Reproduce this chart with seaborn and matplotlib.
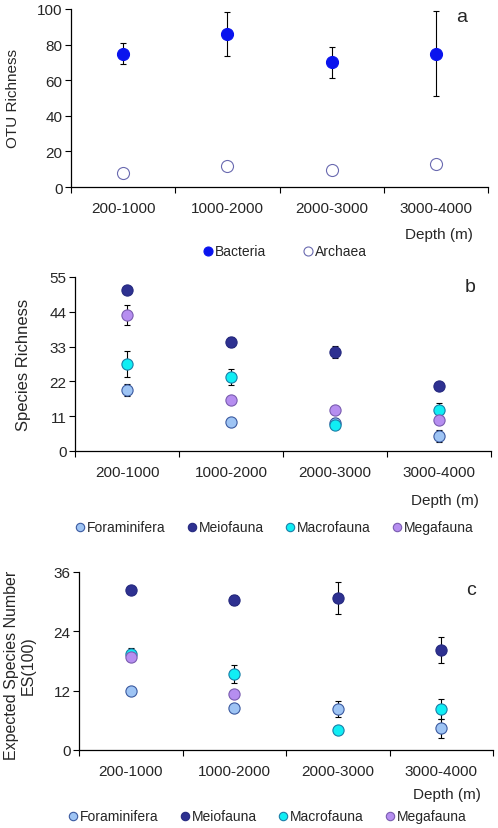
import numpy as np
import pandas as pd
import matplotlib
matplotlib.use('Agg')
import matplotlib.pyplot as plt
import seaborn as sns
from matplotlib.ticker import FixedLocator, NullFormatter

sns.set_theme(style='white')
plt.rcParams['font.family'] = ['Liberation Sans', 'DejaVu Sans']

depth = ['200-1000', '1000-2000', '2000-3000', '3000-4000']

# panel a: OTU richness
bacteria = [75, 86, 70, 75]
bacteria_err = [6, 12.5, 8.5, 24]
archaea = [7.7, 12, 9.8, 13.2]

# panel b: species richness
fora_b = [19.3, 9.3, 8.9, 4.7]
fora_b_err = [1.8, 0, 1.5, 1.8]
meio_b = [51, 34.5, 31.3, 20.7]
meio_b_err = [0, 1.5, 2, 0]
macro_b = [27.4, 23.4, 8.3, 13.1]
macro_b_err = [4.1, 2.4, 1, 2.1]
mega_b = [43, 16.1, 13.1, 9.9]
mega_b_err = [3.1, 0, 0, 0]

# panel c: ES(100)
fora_c = [11.9, 8.5, 8.3, 4.4]
fora_c_err = [0.7, 0, 1.6, 1.9]
meio_c = [32.4, 30.4, 30.8, 20.2]
meio_c_err = [0, 1, 3.2, 2.6]
macro_c = [19.5, 15.4, 4.1, 8.3]
macro_c_err = [1.2, 1.8, 0, 2]
mega_c = [18.9, 11.3, np.nan, np.nan]
mega_c_err = [0, 0, 0, 0]

colors = {'Bacteria': '#0a14ee', 'Archaea': 'white',
          'Foraminifera': '#9ec4f4', 'Meiofauna': '#2e3191',
          'Macrofauna': '#10eef4', 'Megafauna': '#b68ef0'}
edges = {'Bacteria': '#0a14ee', 'Archaea': '#6a6ab0',
         'Foraminifera': '#3b5aa0', 'Meiofauna': '#262a80',
         'Macrofauna': '#1a7fa8', 'Megafauna': '#7a5cb0'}

fig = plt.figure(figsize=(4.98, 8.29), dpi=100)


def panel(rect, series, yticks, ylabel, ylsize, letter, letter_xy, leg_xy, depth_xy, size, colsp):
    ax = fig.add_axes(rect)
    xs = np.arange(len(depth))
    for name, vals, errs in series:
        df = pd.DataFrame({'x': xs, 'y': vals, 'err': errs})
        e = df[(df['err'] > 0) & df['y'].notna()]
        if len(e):
            ax.errorbar(e['x'], e['y'], yerr=e['err'], fmt='none', ecolor='black',
                        elinewidth=0.8, capsize=2.5, capthick=0.8, zorder=1)
        sns.scatterplot(data=df.dropna(), x='x', y='y', ax=ax, s=size,
                        color=colors[name], edgecolor=edges[name], linewidth=0.8,
                        label=name, zorder=3, legend=True)
    ax.set_xlim(-0.5, 3.5)
    ax.set_ylim(yticks[0], yticks[-1])
    ax.set_yticks(yticks)
    ax.xaxis.set_major_locator(FixedLocator([-0.5, 0.5, 1.5, 2.5, 3.5]))
    ax.xaxis.set_major_formatter(NullFormatter())
    ax.xaxis.set_minor_locator(FixedLocator(list(xs)))
    ax.set_xticklabels(depth, minor=True)
    ax.tick_params(axis='x', which='major', direction='out', length=4, width=0.8, color='black', bottom=True)
    ax.tick_params(axis='x', which='minor', length=0, pad=10, labelsize=11)
    ax.tick_params(axis='y', direction='out', length=4, width=0.8, color='black', left=True, labelsize=11, pad=2)
    for s in ['top', 'right']:
        ax.spines[s].set_visible(False)
    for s in ['left', 'bottom']:
        ax.spines[s].set_color('black')
        ax.spines[s].set_linewidth(0.9)
    ax.set_xlabel('')
    ax.set_ylabel(ylabel, fontsize=ylsize, linespacing=1.2)
    handles, labels = ax.get_legend_handles_labels()
    ax.get_legend().remove()
    fig.legend(handles, labels, loc='center', bbox_to_anchor=(leg_xy[0] / 498, 1 - leg_xy[1] / 829),
               ncol=len(labels), frameon=False, fontsize=10, handletextpad=0.1, handlelength=0.8,
               columnspacing=colsp, markerscale=0.75, borderpad=0)
    fig.text(depth_xy[0] / 498, 1 - depth_xy[1] / 829, 'Depth (m)', ha='center', va='center', fontsize=11)
    fig.text(letter_xy[0] / 498, 1 - letter_xy[1] / 829, letter, ha='center', va='center', fontsize=14)
    return ax


ax_a = panel([71 / 498, 1 - 188 / 829, 417 / 498, 178 / 829],
             [('Bacteria', bacteria, bacteria_err), ('Archaea', archaea, [0, 0, 0, 0])],
             [0, 20, 40, 60, 80, 100], 'OTU Richness', 11, 'a', (462, 18), (285, 252), (439, 235), 75, 2.6)
ax_a.yaxis.set_label_coords(-0.122, 0.5)

ax_b = panel([75 / 498, 1 - 452 / 829, 416 / 498, 174 / 829],
             [('Foraminifera', fora_b, fora_b_err), ('Meiofauna', meio_b, meio_b_err),
              ('Macrofauna', macro_b, macro_b_err), ('Megafauna', mega_b, mega_b_err)],
             [0, 11, 22, 33, 44, 55], 'Species Richness', 12, 'b', (470, 288), (274, 528), (445, 501), 65, 1.5)
ax_b.yaxis.set_label_coords(-0.105, 0.5)

ax_c = panel([79 / 498, 1 - 751 / 829, 414 / 498, 178 / 829],
             [('Foraminifera', fora_c, fora_c_err), ('Meiofauna', meio_c, meio_c_err),
              ('Macrofauna', macro_c, macro_c_err), ('Megafauna', mega_c, mega_c_err)],
             [0, 12, 24, 36], 'Expected Species Number\nES(100)', 11.5, 'c', (471, 591), (267, 817), (447, 795), 65, 1.5)
ax_c.yaxis.set_label_coords(-0.104, 0.48)

fig.savefig('out.png', dpi=100, facecolor='white')
